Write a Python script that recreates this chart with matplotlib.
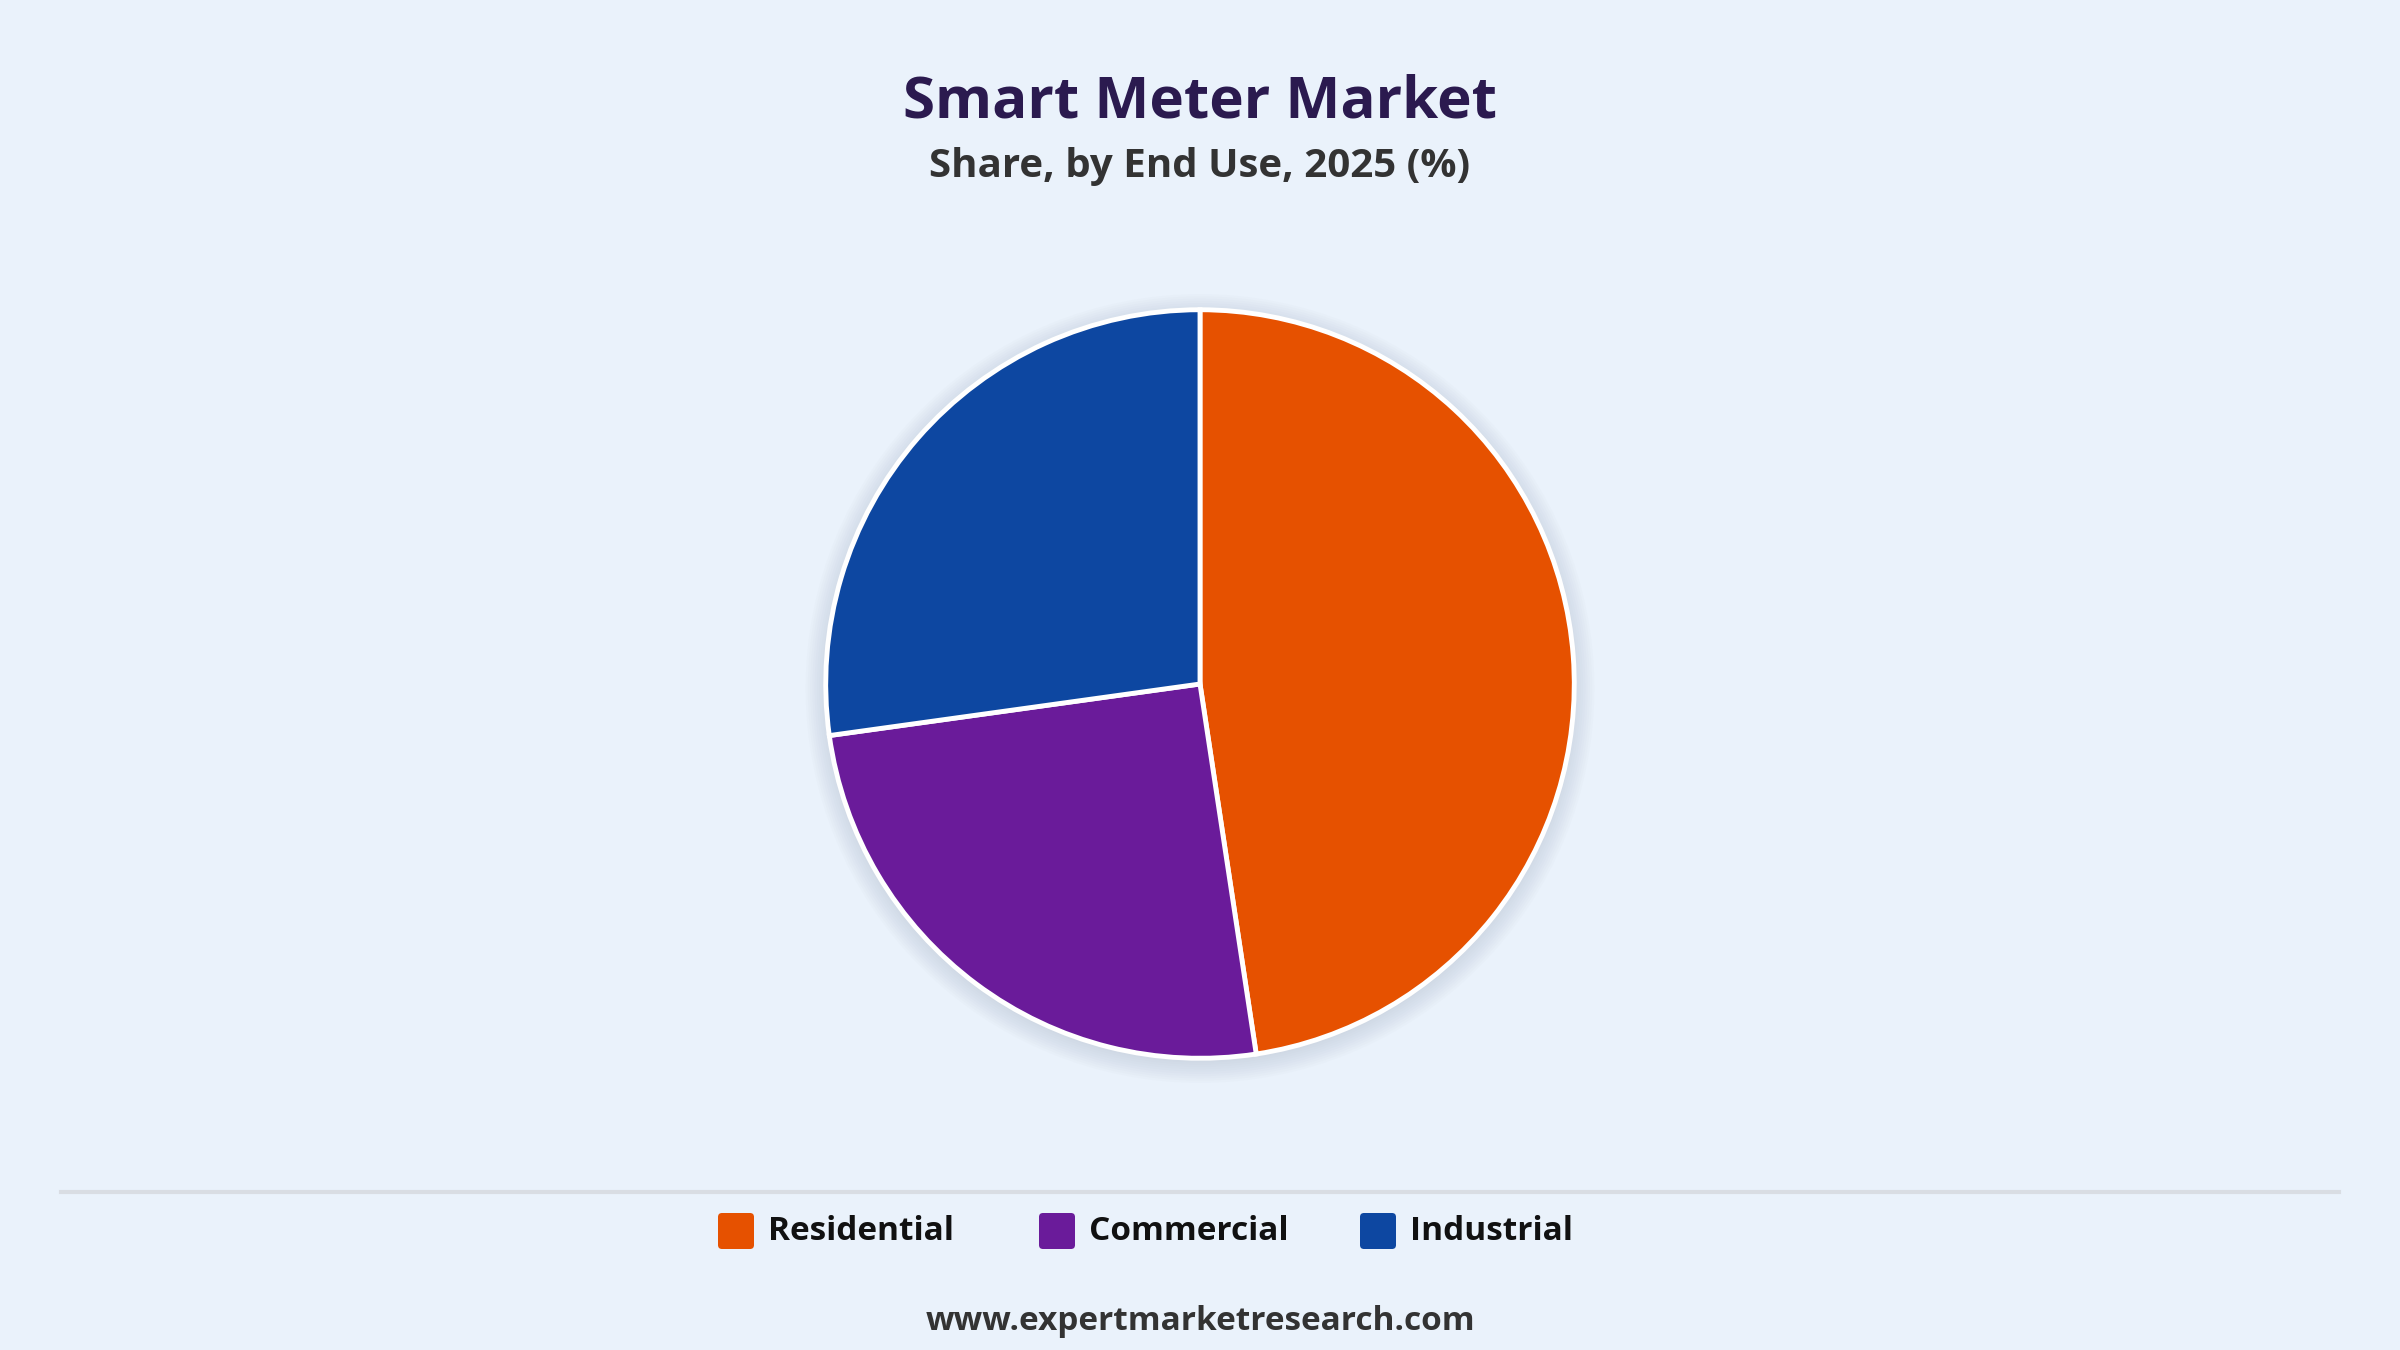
import matplotlib.pyplot as plt
from matplotlib.patches import Circle, FancyBboxPatch

segments = ['Residential', 'Commercial', 'Industrial']
shares = [47.6, 25.2, 27.2]
colors = ['#E65100', '#6A1B9A', '#0D47A1']

title = 'Smart Meter Market'
subtitle = 'Share, by End Use, 2025 (%)'
source = 'www.expertmarketresearch.com'

bg = '#EAF2FB'
plt.rcParams['font.family'] = ['Open Sans', 'DejaVu Sans']

fig = plt.figure(figsize=(24, 13.5), dpi=100, facecolor=bg)

W, H = 2400, 1350

# full-figure overlay in pixel units for titles, divider and legend
ov = fig.add_axes([0, 0, 1, 1])
ov.set_xlim(0, W)
ov.set_ylim(H, 0)
ov.axis('off')

cx, cy, r = 1200, 684, 378
ax = fig.add_axes([(cx - r) / W, 1 - (cy + r) / H, 2 * r / W, 2 * r / H])
ax.set_facecolor('none')

# soft shadow under the pie
for i in range(10):
    ax.add_patch(Circle((0, -0.012), 1.0 + i * 0.006, color='#9aa6b8',
                        alpha=0.03, lw=0, zorder=0, clip_on=False))

wedges, _ = ax.pie(shares, colors=colors, startangle=90, counterclock=False,
                   radius=1.0,
                   wedgeprops=dict(edgecolor='white', linewidth=3.5))
ax.set_xlim(-1.01, 1.01)
ax.set_ylim(-1.01, 1.01)
ax.set_aspect('equal')
ax.axis('off')

ov.text(W / 2, 103, title, ha='center', va='center',
        fontsize=42, fontweight='bold', color='#2B1A4F')
ov.text(W / 2, 166, subtitle, ha='center', va='center',
        fontsize=29, fontweight='bold', color='#333333')

# divider line above legend
ov.plot([61, 2339], [1192, 1192], color='#D9DDE3', lw=3)

# legend: equal-width columns with rounded swatches
x0, step, ly, sw = 718, 321, 1231, 36
for i, (lab, col) in enumerate(zip(segments, colors)):
    x = x0 + i * step
    ov.add_patch(FancyBboxPatch((x + 4, ly - sw / 2 + 4), sw - 8, sw - 8,
                                boxstyle='round,pad=4', fc=col, ec='none'))
    ov.text(x + 50, ly, lab, ha='left', va='center', fontsize=24,
            fontweight='bold', color='#111111')

ov.text(W / 2, 1321, source, ha='center', va='center',
        fontsize=24, fontweight='bold', color='#333333')

fig.savefig('out.png', dpi=100, facecolor=bg)
